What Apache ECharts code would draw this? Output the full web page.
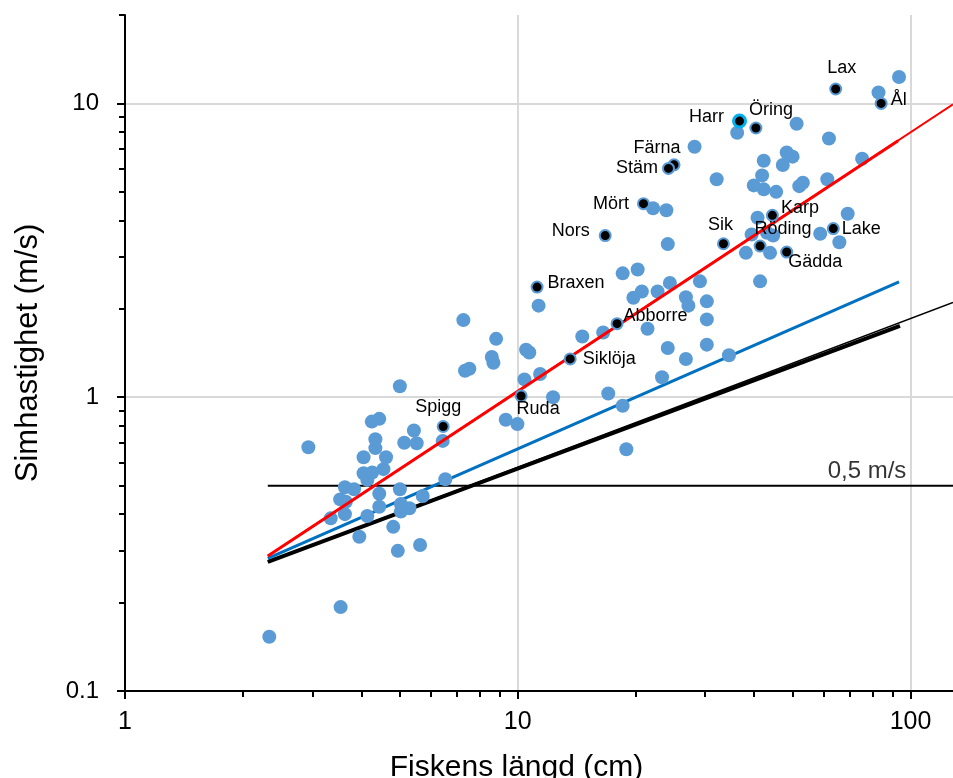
<!DOCTYPE html>
<html>
<head>
<meta charset="utf-8">
<script src="https://cdn.jsdelivr.net/npm/echarts@6/dist/echarts.min.js"></script>
<style>
html,body{margin:0;padding:0;background:#fff}
#chart{width:953px;height:778px}
</style>
</head>
<body>
<div id="chart"></div>
<script>
// axis ticks
var xMajor=[1,10,100];
var xMinor=[2,3,4,5,6,7,8,9,20,30,40,50,60,70,80,90];
var yMajor=[0.1,1,10];
var yMinor=[0.2,0.3,0.4,0.5,0.6,0.7,0.8,0.9,2,3,4,5,6,7,8,9,20];

// all fish (length cm, speed m/s)
var lengthCm=[93.5,82.9,36.2,51.3,62.0,28.2,42.3,48.4,50.1,47.3,75.3,32.1,41.9,39.9,42.3,45.5,53.2,52.1,61.4,22.1,
  23.9,24.1,40.8,39.4,43.1,44.7,38.1,43.9,58.9,69.2,65.9,18.5,20.2,24.4,29.1,41.4,19.7,20.7,22.7,26.8,
  27.2,30.3,30.3,16.5,14.6,21.4,24.1,26.8,30.3,34.5,23.3,17.0,18.5,18.9,11.3,7.27,8.81,8.59,8.67,7.34,
  7.53,10.5,10.7,10.4,11.4,12.3,9.32,9.98,5.01,2.93,4.25,4.44,5.44,5.14,5.53,6.44,4.34,4.34,4.05,4.62,
  4.05,4.26,4.55,4.14,6.54,3.63,3.83,5.01,4.44,3.53,3.65,5.73,4.44,5.04,5.04,5.30,3.34,3.63,4.14,4.82,
  3.95,4.95,5.64,3.54,2.33];
var speedMs=[12.3,10.9,7.95,8.53,7.60,7.12,6.38,6.81,6.59,6.17,6.48,5.52,5.69,5.26,5.10,5.00,5.37,5.23,5.52,4.40,
  4.33,3.32,4.08,3.58,3.63,3.55,3.10,3.10,3.60,4.21,3.37,2.64,2.72,2.45,2.48,2.48,2.18,2.29,2.29,2.19,
  2.05,2.12,1.84,1.66,1.61,1.71,1.47,1.35,1.51,1.39,1.17,1.03,0.935,0.665,2.05,1.83,1.58,1.37,1.31,1.23,
  1.25,1.45,1.42,1.15,1.20,1.00,0.838,0.81,1.09,0.676,0.826,0.844,0.77,0.70,0.697,0.71,0.72,0.671,0.625,0.625,
  0.551,0.554,0.569,0.523,0.526,0.494,0.486,0.486,0.469,0.449,0.441,0.461,0.424,0.433,0.408,0.419,0.387,0.40,0.394,0.362,
  0.335,0.30,0.314,0.193,0.153];

// named species
var speciesNames=['Lax','Ål','Harr','Öring','Färna','Stäm','Mört','Nors','Sik','Karp','Röding','Lake','Gädda','Braxen','Abborre','Siklöja','Ruda','Spigg'];
var speciesLength=[64.5,84.2,36.7,40.4,25.0,24.2,20.9,16.7,33.4,44.5,41.4,63.6,48.4,11.2,17.9,13.6,10.2,6.46];
var speciesSpeed=[11.2,10.0,8.71,8.25,6.18,6.01,4.56,3.55,3.33,4.16,3.27,3.75,3.12,2.37,1.78,1.35,1.01,0.795];

// fitted lines (end points)
var redLong=[[2.31,0.288],[128.3,9.93]];
var redFit=[[2.31,0.288],[93,7.47]];
var blueFit=[[2.31,0.283],[93.5,2.47]];
var blackLong=[[2.31,0.275],[128.3,2.10]];
var blackFit=[[2.31,0.275],[94,1.75]];
var limitLine=[[2.31,0.5],[128.3,0.5]];
var limitText=[[77.5,0.5,'0,5 m/s']];

var FONT='Liberation Sans, Arial, sans-serif';

var labelPlace={
  'Lax':{position:'top',distance:5,offset:[6,0]},
  'Ål':{position:'right',distance:3,offset:[0,-3]},
  'Harr':{position:'left',distance:8,offset:[0,-4]},
  'Öring':{position:'top',distance:2,offset:[15,0]},
  'Färna':{position:'top',distance:1,offset:[-17,0]},
  'Stäm':{position:'left',distance:4,offset:[0,0]},
  'Mört':{position:'left',distance:8,offset:[0,0]},
  'Nors':{position:'left',distance:9,offset:[0,-5]},
  'Sik':{position:'top',distance:3,offset:[-3,0]},
  'Karp':{position:'right',distance:2,offset:[0,-7]},
  'Röding':{position:'top',distance:2,offset:[23,0]},
  'Lake':{position:'right',distance:2,offset:[0,0]},
  'Gädda':{position:'right',distance:0,offset:[-5,10]},
  'Braxen':{position:'right',distance:4,offset:[0,-4]},
  'Abborre':{position:'right',distance:0,offset:[0,-8]},
  'Siklöja':{position:'right',distance:6,offset:[0,0]},
  'Ruda':{position:'bottom',distance:0,offset:[17,-2]},
  'Spigg':{position:'top',distance:4,offset:[-5,0]}
};

var fishPoints=[];
for (var i=0;i<lengthCm.length;i++) {
  fishPoints.push([lengthCm[i],speedMs[i]]);
}

var speciesPoints=[];
for (var j=0;j<speciesNames.length;j++) {
  var nm=speciesNames[j];
  var lp=labelPlace[nm];
  var pt={
    name:nm,
    value:[speciesLength[j],speciesSpeed[j]],
    label:{show:true,position:lp.position,distance:lp.distance,offset:lp.offset}
  };
  if (nm=='Harr') {
    pt.symbolSize=12;
    pt.itemStyle={borderColor:'#00B0F0',borderWidth:3};
  }
  speciesPoints.push(pt);
}

function lineSeries(data,color,width,z) {
  return {
    type:'line',
    data:data,
    symbol:'none',
    silent:true,
    z:z,
    lineStyle:{color:color,width:width,cap:'butt'}
  };
}

var option={
  animation:false,
  backgroundColor:'#fff',
  textStyle:{fontFamily:FONT},
  grid:{left:125,top:15,right:0,bottom:87,outerBoundsMode:'none',containLabel:false},
  xAxis:[
    {
      type:'log',
      logBase:10,
      min:1,
      max:128.3,
      name:'Fiskens längd (cm)',
      nameLocation:'middle',
      nameGap:62,
      nameTextStyle:{fontSize:30,color:'#000',fontFamily:FONT,padding:[0,45,0,0]},
      axisLine:{show:true,onZero:false,lineStyle:{color:'#000',width:2}},
      axisTick:{show:true,length:8,customValues:xMajor,lineStyle:{color:'#000',width:2}},
      axisLabel:{customValues:xMajor,margin:19,fontSize:25,color:'#000',fontFamily:FONT},
      splitLine:{show:true,lineStyle:{color:'#D9D9D9',width:2}}
    },
    {
      type:'log',
      logBase:10,
      min:1,
      max:128.3,
      position:'bottom',
      axisLine:{show:false},
      axisTick:{show:true,length:6,customValues:xMinor,lineStyle:{color:'#000',width:2}},
      axisLabel:{show:false},
      splitLine:{show:false}
    }
  ],
  yAxis:[
    {
      type:'log',
      logBase:10,
      min:0.1,
      max:20,
      name:'Simhastighet (m/s)',
      nameLocation:'middle',
      nameGap:81,
      nameTextStyle:{fontSize:31,color:'#000',fontFamily:FONT},
      axisLine:{show:true,onZero:false,lineStyle:{color:'#000',width:2}},
      axisTick:{show:true,length:8,customValues:yMajor,lineStyle:{color:'#000',width:2}},
      axisLabel:{customValues:yMajor,margin:26,fontSize:24,color:'#000',fontFamily:FONT},
      splitLine:{show:true,lineStyle:{color:'#D9D9D9',width:2}}
    },
    {
      type:'log',
      logBase:10,
      min:0.1,
      max:20,
      position:'left',
      axisLine:{show:false},
      axisTick:{show:true,length:6,customValues:yMinor,lineStyle:{color:'#000',width:2}},
      axisLabel:{show:false},
      splitLine:{show:false}
    }
  ],
  series:[
    lineSeries(limitLine,'#000',2,1),
    lineSeries(blackLong,'#000',1.5,1),
    lineSeries(blackFit,'#000',4,1),
    lineSeries(blueFit,'#0070C0',3,1),
    {
      type:'scatter',
      data:fishPoints,
      symbolSize:14,
      silent:true,
      z:3,
      itemStyle:{color:'#5B9BD5',opacity:1}
    },
    lineSeries(redLong,'#FF0000',2,4),
    lineSeries(redFit,'#FF0000',3,4),
    {
      type:'scatter',
      data:speciesPoints,
      symbolSize:11,
      silent:true,
      z:5,
      itemStyle:{color:'#000',borderColor:'#5B9BD5',borderWidth:2,opacity:1},
      label:{show:true,formatter:'{b}',fontSize:18,color:'#000',fontFamily:FONT}
    },
    {
      type:'scatter',
      data:limitText,
      symbolSize:0,
      silent:true,
      z:5,
      label:{show:true,position:'top',distance:2,fontSize:24,color:'#000',fontFamily:FONT,
        formatter:function(p){return p.value[2];}}
    }
  ]
};

var chart=echarts.init(document.getElementById('chart'));
chart.setOption(option);
</script>
</body>
</html>
